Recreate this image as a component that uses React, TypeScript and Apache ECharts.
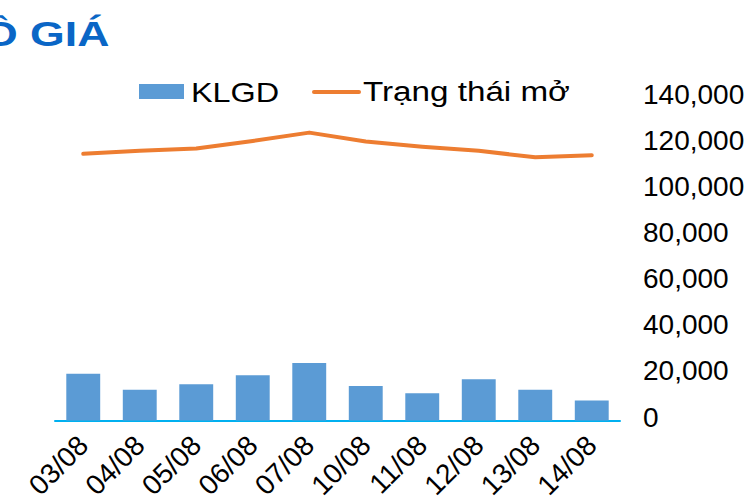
import React, { useEffect, useRef } from "react";
import * as echarts from "echarts";

const categories = ["03/08", "04/08", "05/08", "06/08", "07/08", "10/08", "11/08", "12/08", "13/08", "14/08"];
const klgd = [20300, 13300, 15700, 19600, 24900, 15000, 11800, 17900, 13300, 8700];
const trangThaiMo = [115700, 117000, 118000, 121300, 124900, 121000, 118800, 117000, 114200, 115100];
const yTicks = { min: 0, max: 140000, interval: 20000 };
const seriesNames = ["KLGD", "Trạng thái mở"];
const titleText = "Ồ GIÁ";

const FONT = "'Liberation Sans', Arial, sans-serif";
const BAR_COLOR = "#5b9bd5";
const LINE_COLOR = "#ed7d31";

export default function App() {
  const ref = useRef<HTMLDivElement>(null);
  useEffect(() => {
    if (!ref.current) return;
    const chart = echarts.init(ref.current, undefined, { renderer: "svg" });
    chart.setOption({
      animation: false,
      backgroundColor: "#ffffff",
      textStyle: { fontFamily: FONT },
      graphic: [
        {
          type: "text",
          x: -17,
          y: 34,
          scaleX: 1.24,
          style: {
            text: titleText,
            x: 0,
            y: 0,
            verticalAlign: "middle",
            font: "bold 36px " + FONT,
            fill: "#0a66c6",
          },
        },
        {
          type: "rect",
          shape: { x: 139, y: 84, width: 45, height: 15 },
          style: { fill: BAR_COLOR },
        },
        {
          type: "text",
          x: 191,
          y: 92,
          scaleX: 1.2,
          style: {
            text: seriesNames[0],
            x: 0,
            y: 0,
            verticalAlign: "middle",
            font: "27px " + FONT,
            fill: "#000",
          },
        },
        {
          type: "line",
          shape: { x1: 314, y1: 92, x2: 359, y2: 92 },
          style: { stroke: LINE_COLOR, lineWidth: 4, lineCap: "round" },
        },
        {
          type: "text",
          x: 363,
          y: 92,
          scaleX: 1.23,
          style: {
            text: seriesNames[1],
            x: 0,
            y: 0,
            verticalAlign: "middle",
            font: "27px " + FONT,
            fill: "#000",
          },
        },
      ],
      grid: {
        left: 55,
        right: 133,
        top: 97.8,
        bottom: 81.5,
        containLabel: false,
        outerBoundsMode: "none",
      },
      xAxis: {
        type: "category",
        data: categories,
        axisLine: { lineStyle: { color: "#00b0f0", width: 2 } },
        axisTick: { show: false },
        axisLabel: {
          rotate: 45,
          fontSize: 28,
          color: "#000",
          fontFamily: FONT,
          margin: 20,
          interval: 0,
        },
      },
      yAxis: {
        type: "value",
        position: "right",
        min: yTicks.min,
        max: yTicks.max,
        interval: yTicks.interval,
        splitLine: { show: false },
        axisLine: { show: false },
        axisTick: { show: false },
        axisLabel: {
          fontSize: 28,
          color: "#000",
          fontFamily: FONT,
          margin: 23,
          align: "left",
          verticalAlign: "bottom",
          lineHeight: 7,
          formatter: (v: number) => v.toLocaleString("en-US"),
        },
      },
      series: [
        {
          name: seriesNames[0],
          type: "bar",
          data: klgd,
          barWidth: "60%",
          itemStyle: { color: BAR_COLOR },
        },
        {
          name: seriesNames[1],
          type: "line",
          data: trangThaiMo,
          symbol: "none",
          lineStyle: { color: LINE_COLOR, width: 4, cap: "round", join: "round" },
          itemStyle: { color: LINE_COLOR },
        },
      ],
    });
    return () => chart.dispose();
  }, []);
  return <div ref={ref} style={{ width: 753, height: 502, position: "absolute", left: 0, top: 0 }} />;
}
